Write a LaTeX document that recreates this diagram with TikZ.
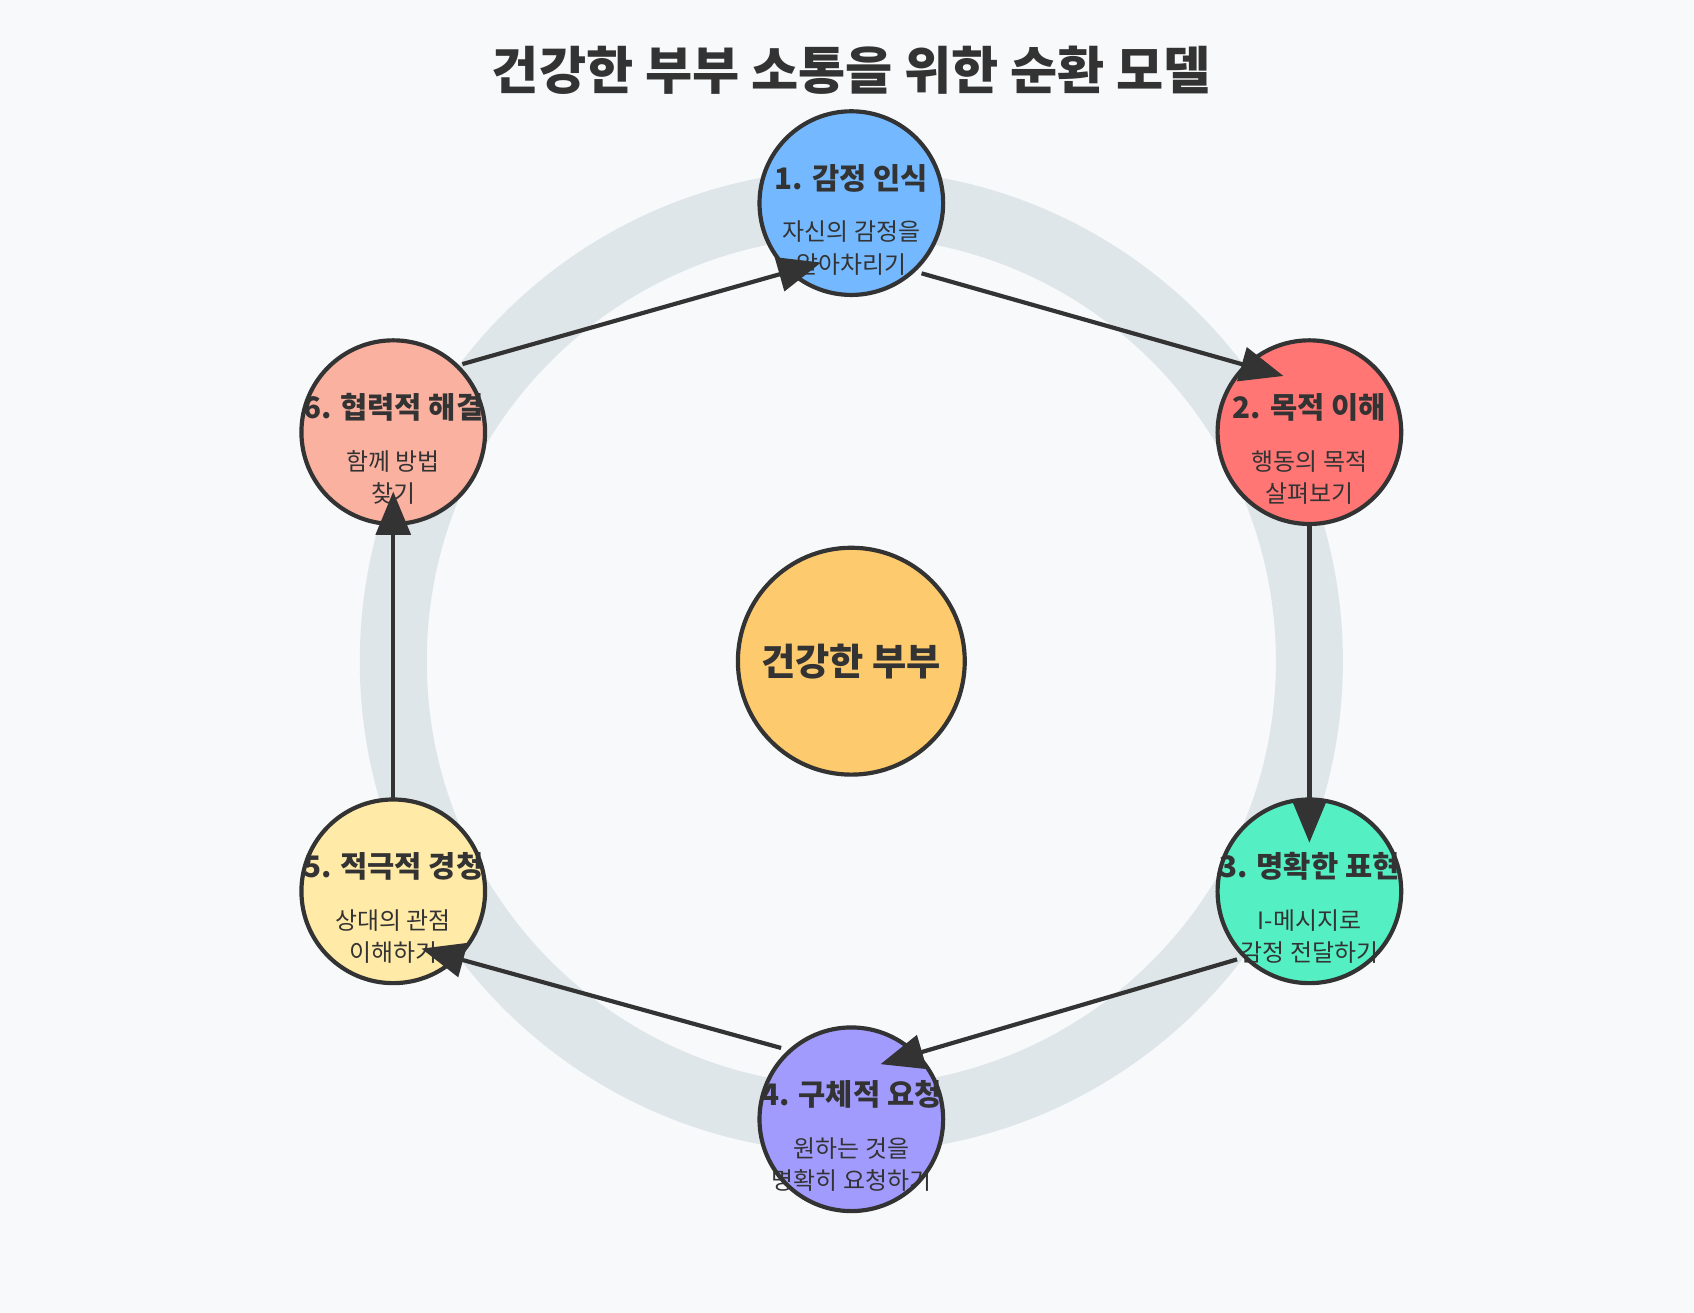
\documentclass[tikz,border=0pt]{standalone}
\usepackage{fontspec}
\setmainfont{Noto Sans CJK KR}
\usetikzlibrary{arrows.meta, positioning}
\definecolor{ink}{HTML}{333333}
\definecolor{bgc}{HTML}{F7F9FA}
\definecolor{ringc}{HTML}{DFE6E9}
\definecolor{cA}{HTML}{74B9FF}
\definecolor{cB}{HTML}{FF7675}
\definecolor{cC}{HTML}{55EFC4}
\definecolor{cD}{HTML}{A29BFE}
\definecolor{cE}{HTML}{FFEAA7}
\definecolor{cF}{HTML}{FAB1A0}
\definecolor{cG}{HTML}{FDCB6E}
\begin{document}
\begin{tikzpicture}[
    stage/.style={circle, draw=ink, line width=1.1pt, minimum size=1.7cm, inner sep=0pt},
    head/.style={font=\fontsize{7.8}{9}\selectfont\bfseries, text=ink},
    sub/.style={font=\fontsize{6.3}{8.5}\selectfont, text=ink, align=center},
    flow/.style={-{Triangle[length=0.4cm,width=0.32cm]}, ink, line width=1.1pt}]
        
        \fill[bgc] (0,0) rectangle (15.68,-12.15);
        \useasboundingbox (0,0) rectangle (15.68,-12.15);
        
        % Title and background ring
        \node[font=\fontsize{13.5}{16}\selectfont\bfseries, text=ink] (title) at (7.88,-0.65) {건강한 부부 소통을 위한 순환 모델};
        \draw[ringc, line width=0.62cm] (7.88,-6.12) circle (4.24);
        
        % Stages
        \node[stage, fill=cA] (s1) at (7.88,-1.88) {};
        \node[stage, fill=cB] (s2) at (12.12,-4.00) {};
        \node[stage, fill=cC] (s3) at (12.12,-8.25) {};
        \node[stage, fill=cD] (s4) at (7.88,-10.36) {};
        \node[stage, fill=cE] (s5) at (3.64,-8.25) {};
        \node[stage, fill=cF] (s6) at (3.64,-4.00) {};
        \node[circle, draw=ink, line width=1.1pt, minimum size=2.1cm, fill=cG, font=\fontsize{9.8}{12}\selectfont\bfseries, text=ink] (core) at (7.88,-6.12) {건강한 부부};
        
        % Labels
        \node[head] (h1) at (7.88,-1.65) {1. 감정 인식};
        \node[sub, below=0.02cm of h1] (t1) {자신의 감정을\\알아차리기};
        \node[head] (h2) at (12.12,-3.77) {2. 목적 이해};
        \node[sub, below=0.02cm of h2] (t2) {행동의 목적\\살펴보기};
        \node[head] (h3) at (12.12,-8.02) {3. 명확한 표현};
        \node[sub, below=0.02cm of h3] (t3) {I-메시지로\\감정 전달하기};
        \node[head] (h4) at (7.88,-10.13) {4. 구체적 요청};
        \node[sub, below=0.02cm of h4] (t4) {원하는 것을\\명확히 요청하기};
        \node[head] (h5) at (3.64,-8.02) {5. 적극적 경청};
        \node[sub, below=0.02cm of h5] (t5) {상대의 관점\\이해하기};
        \node[head] (h6) at (3.64,-3.77) {6. 협력적 해결};
        \node[sub, below=0.02cm of h6] (t6) {함께 방법\\찾기};
        
        % Arrow ends
        \coordinate (a1) at (8.53,-2.53);  \coordinate (b2) at (11.88,-3.48);
        \coordinate (a2) at (12.12,-4.87); \coordinate (b3) at (12.12,-7.80);
        \coordinate (a3) at (11.45,-8.88); \coordinate (b4) at (8.15,-9.85);
        \coordinate (a4) at (7.23,-9.70);  \coordinate (b5) at (3.90,-8.78);
        \coordinate (a5) at (3.64,-7.40);  \coordinate (b6) at (3.64,-4.55);
        \coordinate (a6) at (4.28,-3.37);  \coordinate (b1) at (7.60,-2.43);
        
        % Arrows
        \draw[flow] (a1) -- (b2);
        \draw[flow] (a2) -- (b3);
        \draw[flow] (a3) -- (b4);
        \draw[flow] (a4) -- (b5);
        \draw[flow] (a5) -- (b6);
        \draw[flow] (a6) -- (b1);
        
        \end{tikzpicture}
\end{document}
